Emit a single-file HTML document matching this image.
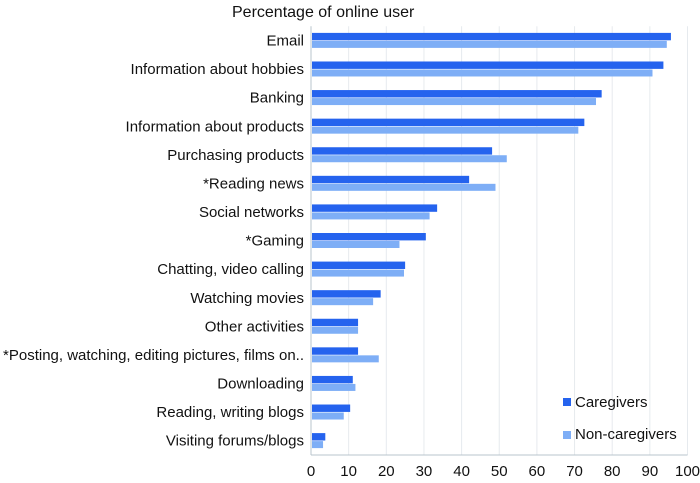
<!DOCTYPE html>
<html><head><meta charset="utf-8"><style>
body{margin:0;background:#fff;}
svg{display:block;font-family:"Liberation Sans",Arial,sans-serif;}
</style></head><body>
<svg id="c" width="700" height="483"></svg>
<script>
const categories=["Email","Information about hobbies","Banking","Information about products","Purchasing products","*Reading news","Social networks","*Gaming","Chatting, video calling","Watching movies","Other activities","*Posting, watching, editing pictures, films on..","Downloading","Reading, writing blogs","Visiting forums/blogs"];
const caregivers=[95.6,93.6,77.2,72.6,48.1,42,33.5,30.5,25,18.5,12.5,12.5,11.1,10.4,3.8];
const nonCaregivers=[94.5,90.7,75.7,71.0,52.0,49,31.5,23.5,24.7,16.5,12.5,18,11.8,8.7,3.2];
const ticks=[0,10,20,30,40,50,60,70,80,90,100];
{
const NS="http://www.w3.org/2000/svg";
const svg=document.getElementById('c');
const x0=311,x1=687.5,plotTop=26.2,bot=455;
const xs=v=>x0+(x1-x0)*v/100;
const band=(bot-plotTop)/categories.length;
const yc=i=>plotTop+band*(i+0.5);
function mk(t,a,p){const e=document.createElementNS(NS,t);for(const k in a)e.setAttribute(k,a[k]);(p||svg).appendChild(e);return e;}
let t=mk('text',{x:232,y:17,'font-size':16,fill:'#111'});t.textContent='Percentage of online user';


ticks.forEach(v=>{
 const l=mk('line',{x1:xs(v),x2:xs(v),y1:plotTop,y2:bot,stroke:v==0?'#b8c4cc':'#e6eaee','stroke-width':1});
 
 
 const tx=mk('text',{x:xs(v),y:476,'font-size':15,'text-anchor':'middle',fill:'#111'});tx.textContent=v;
 
 
});
const ax=mk('line',{x1:x0,x2:x1,y1:bot,y2:bot,stroke:'#b8c4cc'});


categories.forEach((c,i)=>{
 const y=yc(i);
 const lb=mk('text',{x:304,y:y+5,'font-size':15,'text-anchor':'end',fill:'#111'});lb.textContent=c;
 
 
 const r1=mk('rect',{x:x0+1,y:y-7.6,width:xs(caregivers[i])-x0-1,height:7.4,fill:'#2563ee'});
 
 
 const r2=mk('rect',{x:x0+1,y:y+0.4,width:xs(nonCaregivers[i])-x0-1,height:7,fill:'#7eaef6'});
 
 
});
const g1=mk('g',{});


mk('rect',{x:563,y:398,width:8,height:8,fill:'#2563ee'},g1);
let lt=mk('text',{x:575,y:407,'font-size':15,fill:'#111'},g1);lt.textContent='Caregivers';
const g2=mk('g',{});


mk('rect',{x:563,y:431,width:8,height:8,fill:'#7eaef6'},g2);
lt=mk('text',{x:575,y:439,'font-size':15,fill:'#111'},g2);lt.textContent='Non-caregivers';
}
</script>
</body></html>
